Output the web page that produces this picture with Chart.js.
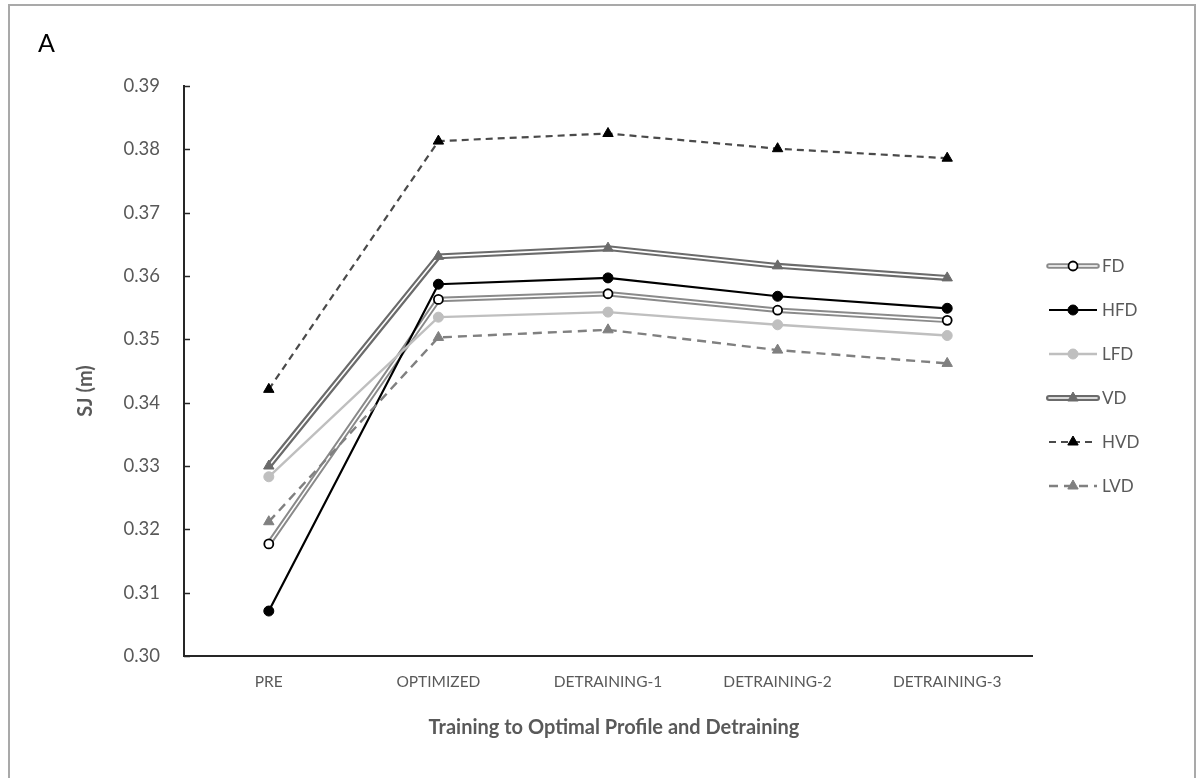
<!DOCTYPE html>
<html>
<head>
<meta charset="utf-8">
<script src="https://cdn.jsdelivr.net/npm/chart.js@4.4.1/dist/chart.umd.min.js"></script>
<style>
  html, body { margin: 0; padding: 0; background: #ffffff; }
  #wrap { width: 1201px; height: 778px; position: relative; }
</style>
</head>
<body>
<div id="wrap"><canvas id="c" width="1201" height="778"></canvas></div>
<script>
// Squat jump height (m) per phase
const phases = ['PRE', 'OPTIMIZED', 'DETRAINING-1', 'DETRAINING-2', 'DETRAINING-3'];
const fd  = [0.3177, 0.3563, 0.3572, 0.3546, 0.3530];
const hfd = [0.3071, 0.3587, 0.3597, 0.3568, 0.3549];
const lfd = [0.3283, 0.3535, 0.3543, 0.3523, 0.3506];
const vd  = [0.3300, 0.3631, 0.3644, 0.3616, 0.3597];
const hvd = [0.3421, 0.3813, 0.3825, 0.3801, 0.3786];
const lvd = [0.3212, 0.3503, 0.3515, 0.3483, 0.3462];
const yMin = 0.30, yMax = 0.39, yStep = 0.01;

const FONT = 'Lato, "Open Sans", sans-serif';
const TEXT = '#595959';

// Visual style of each series (used by chart datasets and the side legend)
const styles = {
  FD:  { kind: 'double', outer: '#8a8a8a', outerW: 5.5, marker: 'circle',   mFill: '#ffffff', mStroke: '#000000', mR: 4.5, mBW: 1.8 },
  HFD: { kind: 'solid',  color: '#000000', width: 2.2,  marker: 'circle',   mFill: '#000000', mStroke: '#000000', mR: 5,   mBW: 1 },
  LFD: { kind: 'solid',  color: '#bfbfbf', width: 2.4,  marker: 'circle',   mFill: '#bfbfbf', mStroke: '#bfbfbf', mR: 5,   mBW: 1 },
  VD:  { kind: 'double', outer: '#6b6b6b', outerW: 6,   marker: 'triangle', mFill: '#6b6b6b', mStroke: '#6b6b6b', mR: 6,   mBW: 1 },
  HVD: { kind: 'dash',   color: '#4a4a4a', width: 2.2,  dash: [7, 5], marker: 'triangle', mFill: '#000000', mStroke: '#000000', mR: 6, mBW: 1 },
  LVD: { kind: 'dash',   color: '#808080', width: 2.4,  dash: [9, 6], marker: 'triangle', mFill: '#808080', mStroke: '#808080', mR: 6, mBW: 1 }
};
const seriesOrder = [['FD', fd], ['HFD', hfd], ['LFD', lfd], ['VD', vd], ['HVD', hvd], ['LVD', lvd]];

function pointOpts(s) {
  return {
    pointStyle: s.marker, pointRadius: s.mR, pointHoverRadius: s.mR,
    pointBackgroundColor: s.mFill, pointBorderColor: s.mStroke, pointBorderWidth: s.mBW
  };
}

// Later series are drawn on top (lower order = drawn later)
const datasets = [];
seriesOrder.forEach(([name, data], i) => {
  const s = styles[name];
  const base = 100 - i * 10;
  if (s.kind === 'double') {
    datasets.push({
      label: name + ' outline', data, borderColor: s.outer, borderWidth: s.outerW,
      pointRadius: 0, pointHoverRadius: 0, tension: 0, order: base + 1
    });
    datasets.push(Object.assign({
      label: name, data, borderColor: '#ffffff', borderWidth: 1.6, tension: 0, order: base
    }, pointOpts(s)));
  } else {
    datasets.push(Object.assign({
      label: name, data, borderColor: s.color, borderWidth: s.width,
      borderDash: s.dash || [], tension: 0, order: base
    }, pointOpts(s)));
  }
});

function drawMarker(ctx, s, x, y) {
  ctx.save();
  ctx.setLineDash([]);
  ctx.beginPath();
  if (s.marker === 'circle') {
    ctx.arc(x, y, s.mR, 0, Math.PI * 2);
  } else {
    let rad = 0;
    const r = s.mR;
    ctx.moveTo(x + Math.sin(rad) * r, y - Math.cos(rad) * r);
    rad += Math.PI * 2 / 3;
    ctx.lineTo(x + Math.sin(rad) * r, y - Math.cos(rad) * r);
    rad += Math.PI * 2 / 3;
    ctx.lineTo(x + Math.sin(rad) * r, y - Math.cos(rad) * r);
    ctx.closePath();
  }
  ctx.fillStyle = s.mFill;
  ctx.fill();
  ctx.lineWidth = s.mBW;
  ctx.strokeStyle = s.mStroke;
  ctx.stroke();
  ctx.restore();
}

function drawSample(ctx, s, x0, x1, y) {
  ctx.save();
  ctx.lineCap = 'butt';
  if (s.kind === 'double') {
    ctx.beginPath(); ctx.moveTo(x0, y); ctx.lineTo(x1, y);
    ctx.strokeStyle = s.outer; ctx.lineWidth = s.outerW; ctx.lineCap = 'round'; ctx.stroke();
    ctx.beginPath(); ctx.moveTo(x0, y); ctx.lineTo(x1, y);
    ctx.strokeStyle = '#ffffff'; ctx.lineWidth = 1.6; ctx.stroke();
  } else {
    ctx.beginPath(); ctx.moveTo(x0, y); ctx.lineTo(x1, y);
    ctx.setLineDash(s.dash || []);
    ctx.strokeStyle = s.color; ctx.lineWidth = s.width; ctx.stroke();
  }
  ctx.restore();
  drawMarker(ctx, s, (x0 + x1) / 2, y);
}

const decor = {
  id: 'decor',
  beforeDraw(chart) {
    const ctx = chart.ctx;
    ctx.save();
    ctx.fillStyle = '#ffffff';
    ctx.fillRect(0, 0, chart.width, chart.height);
    ctx.strokeStyle = '#a9a9a9';
    ctx.lineWidth = 2;
    ctx.strokeRect(9, 5, 1186, 800);
    ctx.restore();
  },
  afterDraw(chart) {
    const ctx = chart.ctx;
    const area = chart.chartArea;
    const ys = chart.scales.y;
    ctx.save();
    // inward tick marks on the value axis
    ctx.strokeStyle = '#262626';
    ctx.lineWidth = 1.5;
    ys.ticks.forEach(t => {
      const py = Math.round(ys.getPixelForValue(t.value)) + 0.5;
      ctx.beginPath(); ctx.moveTo(area.left, py); ctx.lineTo(area.left + 6, py); ctx.stroke();
    });
    // panel letter
    ctx.fillStyle = '#000000';
    ctx.font = '25px ' + FONT;
    ctx.textAlign = 'left'; ctx.textBaseline = 'middle';
    ctx.fillText('A', 38, 44);
    // axis titles
    ctx.fillStyle = TEXT;
    ctx.font = 'bold 20px ' + FONT;
    ctx.textAlign = 'center';
    ctx.fillText('Training to Optimal Profile and Detraining', (area.left + area.right) / 2 + 6, 728);
    ctx.save();
    ctx.translate(86, 391);
    ctx.rotate(-Math.PI / 2);
    ctx.fillText('SJ (m)', 0, 0);
    ctx.restore();
    // side legend
    const rows = [266, 310, 354, 398, 442, 486];
    ctx.font = '17px ' + FONT;
    ctx.textAlign = 'left';
    seriesOrder.forEach(([name], i) => {
      drawSample(ctx, styles[name], 1049, 1097, rows[i]);
      ctx.fillStyle = TEXT;
      ctx.fillText(name, 1102, rows[i] + 1);
    });
    ctx.restore();
  }
};

new Chart(document.getElementById('c'), {
  type: 'line',
  data: { labels: phases, datasets },
  plugins: [decor],
  options: {
    responsive: false,
    animation: false,
    events: [],
    layout: { padding: { left: 0, top: 86, right: 169, bottom: 62 } },
    plugins: { legend: { display: false }, tooltip: { enabled: false } },
    scales: {
      x: {
        type: 'category',
        offset: true,
        grid: { display: false, drawTicks: false },
        border: { display: true, color: '#262626', width: 2 },
        ticks: { color: TEXT, font: { family: FONT, size: 15.5 }, padding: 17, maxRotation: 0 },
        afterFit: s => { s.height = 60; }
      },
      y: {
        min: yMin, max: yMax,
        grid: { display: false, drawTicks: false },
        border: { display: true, color: '#262626', width: 2 },
        ticks: {
          stepSize: yStep, color: TEXT, font: { family: FONT, size: 18.5 }, padding: 24,
          callback: v => Number(v).toFixed(2)
        },
        afterFit: s => { s.width = 184; }
      }
    }
  }
});
</script>
</body>
</html>
